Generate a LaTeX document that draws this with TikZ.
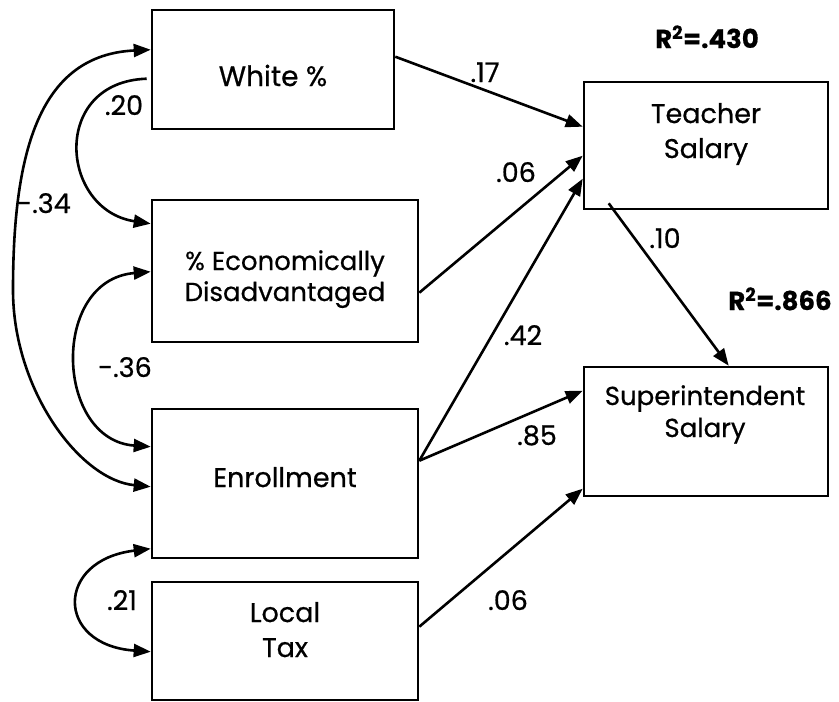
\documentclass[tikz,border=0pt]{standalone}
\usepackage{fontspec}
\setmainfont{Poppins}[FakeBold=0.6]
\usetikzlibrary{arrows.meta,calc}
\begin{document}
\begin{tikzpicture}[x=1pt,y=-1pt,
  box/.style={draw, line width=2.6pt, inner sep=0pt},
  txt/.style={anchor=base, align=center, inner sep=0pt},
  lab/.style={font=\fontsize{27}{32}\selectfont, anchor=base, inner sep=0pt},
  rsq/.style={font=\bfseries\fontsize{26}{32}\selectfont, anchor=base, inner sep=0pt},
  conn/.style={line width=2.6pt, -{Triangle[length=17pt,width=13pt]}},
  cov/.style={line width=2.6pt, {Triangle[length=17pt,width=13pt]}-{Triangle[length=17pt,width=13pt]}},
  covone/.style={line width=2.6pt, -{Triangle[length=17pt,width=13pt]}}
]
\useasboundingbox (0,0) rectangle (839,702);

% boxes
\node[box, minimum width=242pt, minimum height=119pt] (white) at (273,69.5) {};
\node[box, minimum width=266pt, minimum height=142pt] (econ) at (285,271) {};
\node[box, minimum width=266pt, minimum height=149pt] (enr) at (285,483.5) {};
\node[box, minimum width=266pt, minimum height=118pt] (tax) at (285,641) {};
\node[box, minimum width=244pt, minimum height=127pt] (teach) at (706,145.5) {};
\node[box, minimum width=244pt, minimum height=129pt] (sup) at (706,431.5) {};

% box texts (base anchor = last line baseline)
\node[txt, font=\fontsize{28}{31}\selectfont] (whiteT) at (273,86) {White \%};
\node[txt, font=\fontsize{26}{31}\selectfont] (econT) at (285,301) {\% Economically\\Disadvantaged};
\node[txt, font=\fontsize{27}{31}\selectfont] (enrT) at (285,487) {Enrollment};
\node[txt, font=\fontsize{27}{35}\selectfont] (taxT) at (285,657) {Local\\Tax};
\node[txt, font=\fontsize{27}{35}\selectfont] (teachT) at (706,158) {Teacher\\Salary};
\node[txt, font=\fontsize{26}{32}\selectfont] (supT) at (705,437) {Superintendent\\Salary};

% R squared
\node[rsq] (r1) at (707,48) {R\textsuperscript{2}=.430};
\node[rsq] (r2) at (780,310) {R\textsuperscript{2}=.866};

% paths
\draw[conn] ($(white.north east)+(0,48)$) -- ($(teach.north west)+(0,46)$);
\draw[conn] ($(econ.north east)+(0,94)$) -- ($(teach.north west)+(0,75)$);
\draw[conn] ($(enr.north east)+(0,53)$) -- ($(teach.north west)+(0,98)$);
\draw[conn] ($(enr.north east)+(0,53)$) -- ($(sup.north west)+(0,25)$);
\draw[conn] ($(tax.north east)+(0,46)$) -- ($(sup.north west)+(0,123)$);
\draw[conn] ($(teach.south west)+(26,-7)$) -- ($(sup.north west)+(146,0)$);

% covariances
\draw[covone] ($(white.north west)+(-4,70)$) .. controls (50,82) and (60,210) .. ($(econ.north west)+(0,25)$);
\draw[cov] ($(white.north west)+(0,41)$) .. controls (40,55) and (13,150) .. (13,290) .. controls (13,390) and (80,480) .. ($(enr.north west)+(0,79)$);
\draw[cov] ($(econ.north west)+(0,73)$) .. controls (50,280) and (55,440) .. ($(enr.north west)+(0,39)$);
\draw[cov] ($(enr.north west)+(0,141)$) .. controls (55,560) and (55,645) .. ($(tax.north west)+(0,71)$);

% labels
\node[lab] (l17) at (485,82) {.17};
\node[lab] (l06a) at (516,182) {.06};
\node[lab] (l10) at (665,248) {.10};
\node[lab] (l42) at (523,345) {.42};
\node[lab] (l85) at (537,445) {.85};
\node[lab] (l06b) at (508,610) {.06};
\node[lab] (l20) at (124,115) {.20};
\node[lab] (l34) at (44,213) {-.34};
\node[lab] (l36) at (125,377) {-.36};
\node[lab] (l21) at (122,610) {.21};
\end{tikzpicture}
\end{document}
